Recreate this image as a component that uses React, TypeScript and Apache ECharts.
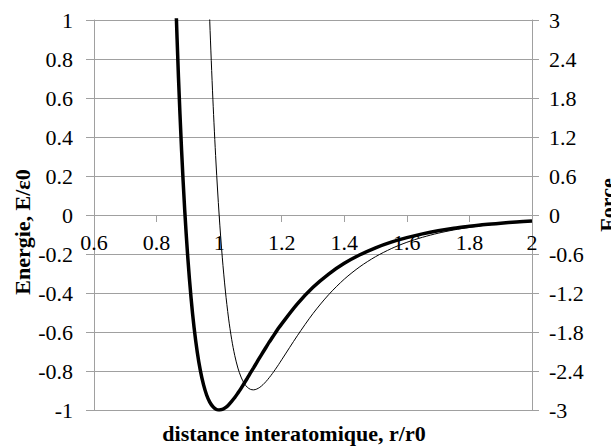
import React, { useEffect, useRef } from "react";
import * as echarts from "echarts";

// r / r0
const rValues = [
  0.86, 0.87, 0.88, 0.89, 0.9, 0.91, 0.92, 0.93, 0.94, 0.95, 0.96, 0.97, 0.98, 0.99,
  1.0, 1.01, 1.02, 1.03, 1.04, 1.05, 1.06, 1.07, 1.08, 1.09, 1.1, 1.11, 1.12, 1.13,
  1.14, 1.15, 1.16, 1.17, 1.18, 1.19, 1.2,
  1.25, 1.3, 1.35, 1.4, 1.45, 1.5, 1.55, 1.6, 1.65, 1.7, 1.75, 1.8, 1.85, 1.9, 1.95, 2.0,
];

// Energie, E/ε0 (left axis)
const energyValues = [
  1.166, 0.706, 0.33, 0.024, -0.223, -0.421, -0.579, -0.702, -0.798, -0.87, -0.923, -0.96,
  -0.983, -0.996, -1.0, -0.997, -0.988, -0.974, -0.956, -0.936, -0.913, -0.889, -0.863,
  -0.837, -0.81, -0.784, -0.757, -0.73, -0.704, -0.678, -0.652, -0.628, -0.604, -0.58, -0.558,
  -0.456, -0.371, -0.303, -0.248, -0.204, -0.168, -0.139, -0.116, -0.097, -0.081, -0.068,
  -0.058, -0.049, -0.042, -0.036, -0.031,
];

// Force (right axis)
const forceValues = [
  50.76, 41.55, 33.87, 27.46, 22.12, 17.67, 13.97, 10.88, 8.32, 6.19, 4.43, 2.98, 1.78, 0.8,
  0, -0.649, -1.17, -1.586, -1.912, -2.164, -2.355, -2.493, -2.59, -2.65, -2.682, -2.69,
  -2.678, -2.651, -2.611, -2.561, -2.503, -2.44, -2.372, -2.301, -2.227,
  -1.857, -1.516, -1.226, -0.987, -0.795, -0.641, -0.518, -0.42, -0.343, -0.28, -0.23,
  -0.19, -0.158, -0.131, -0.11, -0.092,
];

const xTitle = "distance interatomique, r/r0";
const leftTitle = "Energie, E/ε0";
const rightTitle = "Force";

const FONT = "Liberation Serif";
const GRID_COLOR = "#a0a0a0";
const fmt = (v: number) => String(Number(v.toFixed(1)));

export default function App() {
  const ref = useRef<HTMLDivElement>(null);

  useEffect(() => {
    if (!ref.current) return;
    const chart = echarts.init(ref.current, undefined, { renderer: "svg" });
    const labelStyle = { color: "#000", fontFamily: FONT, fontSize: 22, formatter: fmt };
    chart.setOption({
      animation: false,
      backgroundColor: "#fff",
      textStyle: { fontFamily: FONT },
      grid: { left: 94, right: 79, top: 20, bottom: 36, containLabel: false },
      xAxis: {
        type: "value",
        min: 0.6,
        max: 2,
        interval: 0.2,
        position: "bottom",
        offset: -195,
        axisLine: { show: true, onZero: false, lineStyle: { color: GRID_COLOR, width: 1 } },
        axisTick: { show: true, length: 7, lineStyle: { color: GRID_COLOR } },
        axisLabel: { ...labelStyle, margin: 16 },
        splitLine: { show: false },
      },
      yAxis: [
        {
          type: "value",
          min: -1,
          max: 1,
          interval: 0.2,
          position: "left",
          axisLine: { show: true, onZero: false, lineStyle: { color: GRID_COLOR, width: 1 } },
          axisTick: { show: true, length: 8, lineStyle: { color: GRID_COLOR } },
          axisLabel: { ...labelStyle, margin: 21 },
          splitLine: { show: true, lineStyle: { color: GRID_COLOR, width: 1 } },
        },
        {
          type: "value",
          min: -3,
          max: 3,
          interval: 0.6,
          position: "right",
          axisLine: { show: true, onZero: false, lineStyle: { color: GRID_COLOR, width: 1 } },
          axisTick: { show: true, length: 7, lineStyle: { color: GRID_COLOR } },
          axisLabel: { ...labelStyle, margin: 17 },
          splitLine: { show: false },
        },
      ],
      series: [
        {
          name: "Energie",
          type: "line",
          yAxisIndex: 0,
          data: rValues.map((r, i) => [r, energyValues[i]]),
          showSymbol: false,
          smooth: 0.3,
          clip: true,
          lineStyle: { color: "#000", width: 3.5 },
        },
        {
          name: "Force",
          type: "line",
          yAxisIndex: 1,
          data: rValues.map((r, i) => [r, forceValues[i]]),
          showSymbol: false,
          smooth: 0.3,
          clip: true,
          lineStyle: { color: "#000", width: 1 },
        },
      ],
      graphic: [
        {
          type: "text",
          x: 294,
          y: 433,
          style: {
            text: xTitle,
            font: `bold 22px ${FONT}`,
            fill: "#000",
            textAlign: "center",
            textVerticalAlign: "middle",
          },
        },
        {
          type: "text",
          x: 22,
          y: 232,
          rotation: Math.PI / 2,
          style: {
            text: leftTitle,
            font: `bold 22px ${FONT}`,
            fill: "#000",
            textAlign: "center",
            textVerticalAlign: "middle",
          },
        },
        {
          type: "text",
          x: 607,
          y: 205,
          rotation: Math.PI / 2,
          style: {
            text: rightTitle,
            font: `bold 22px ${FONT}`,
            fill: "#000",
            textAlign: "center",
            textVerticalAlign: "middle",
          },
        },
      ],
    });
    return () => chart.dispose();
  }, []);

  return (
    <div
      ref={ref}
      style={{ position: "fixed", left: 0, top: 0, width: 611, height: 446 }}
    />
  );
}
